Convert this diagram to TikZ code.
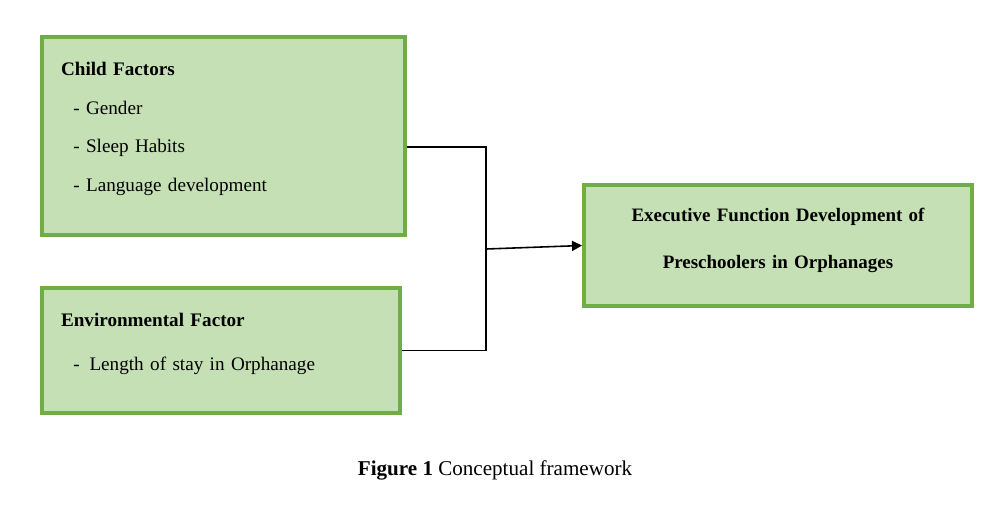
\documentclass[tikz,border=0pt]{standalone}
\usepackage{fontspec}
\setmainfont{Liberation Serif}
\usetikzlibrary{arrows.meta, positioning, calc}
\definecolor{boxgreen}{HTML}{70AD47}
\definecolor{boxfill}{HTML}{C5E0B4}

\begin{document}
\begin{tikzpicture}[x=0.02cm, y=-0.02cm,
    factor_node/.style={rectangle, draw=boxgreen, line width=2.3pt, fill=boxfill, align=left, inner xsep=0.38cm, text height=8pt},
    outcome_node/.style={rectangle, draw=boxgreen, line width=2.3pt, fill=boxfill, align=center, text height=8pt},
    ]
    \useasboundingbox (0,0) rectangle (999,529);
    % Nodes
    \node[factor_node, text width=6.5cm, minimum height=3.96cm, text depth=77.2pt, font=\fontsize{10.9pt}{22.1pt}\selectfont] (child) at (223.5,136)
        {\textbf{Child Factors}\\ \hspace*{7pt}- Gender\\ \hspace*{7pt}- Sleep Habits\\ \hspace*{7pt}- Language development};
    \node[factor_node, below=0.98cm of child.south west, anchor=north west, text width=6.4cm, minimum height=2.5cm, text depth=35.9pt, font=\fontsize{10.9pt}{25.5pt}\selectfont] (env)
        {\textbf{Environmental Factor}\\ \hspace*{7pt}-\hspace{5.6pt}Length of stay in Orphanage};
    \node[outcome_node, text width=7.4cm, minimum width=7.76cm, minimum height=2.42cm, text depth=35pt, font=\fontsize{10.8pt}{26.5pt}\selectfont\bfseries] (exec) at (778,245.5)
        {Executive Function Development of\\ Preschoolers in Orphanages};
    \node[font=\fontsize{12pt}{14pt}\selectfont, anchor=base] (caption) at (495,475) {\textbf{Figure 1} Conceptual framework};

    % Arrows
    \coordinate (fork) at (486,249);
    \draw[line width=0.6pt] ([yshift=-0.22cm]child.east) -| (fork) |- (env.east);
    \draw[-{Triangle[length=2mm, width=2mm]}, line width=0.9pt] (fork) -- (exec.west);
\end{tikzpicture}
\end{document}
